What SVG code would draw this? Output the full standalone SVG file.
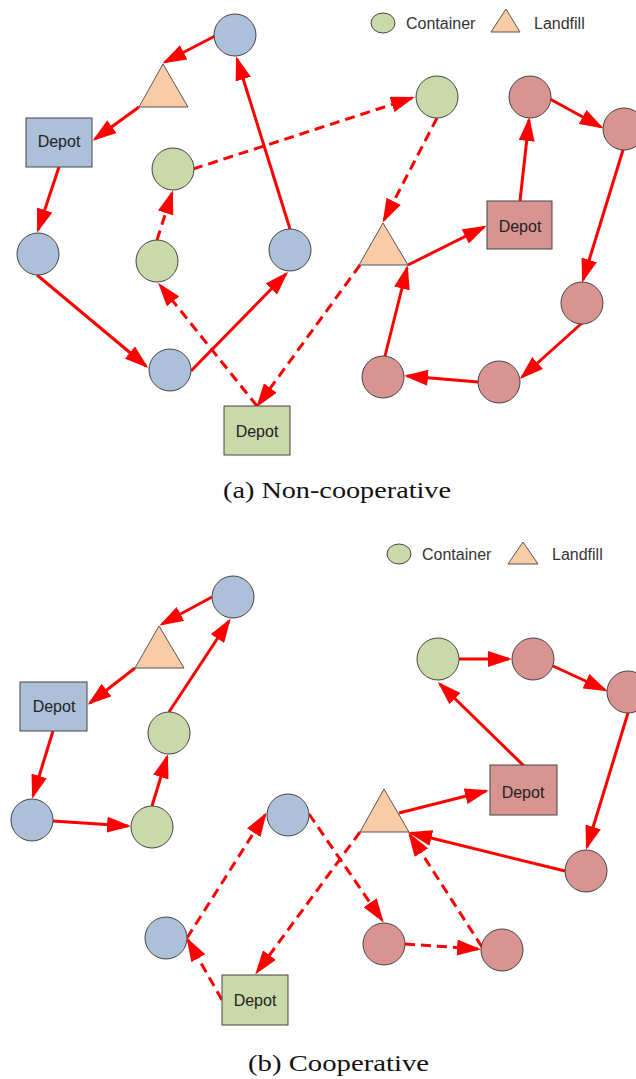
<svg xmlns="http://www.w3.org/2000/svg" width="636" height="1079" viewBox="0 0 636 1079">
<style>
.b{fill:#adc0d9;stroke:#444;stroke-width:1}
.g{fill:#cad9a9;stroke:#444;stroke-width:1}
.r{fill:#d89491;stroke:#444;stroke-width:1}
.o{fill:#f9cca6;stroke:#555;stroke-width:1}
.lbl{font-family:"Liberation Sans",Arial,sans-serif;font-size:16px;fill:#222;text-anchor:middle}
.leg{font-family:"Liberation Sans",Arial,sans-serif;font-size:16px;fill:#333}
.cap{font-family:"Liberation Serif","Times New Roman",serif;font-size:24px;fill:#111}
.e{stroke:#ff0000;stroke-width:3;fill:none;marker-end:url(#ah)}
.d{stroke-dasharray:10 6}
</style>
<defs>
<marker id="ah" markerUnits="userSpaceOnUse" markerWidth="24" markerHeight="16" refX="21" refY="8" orient="auto">
<path d="M0,0 L24,8 L0,16 z" fill="#ff0000"/>
</marker>
</defs>

<g id="legend-a">
<ellipse cx="383" cy="23" rx="12" ry="10" class="g"/>
<text x="406" y="29" class="leg">Container</text>
<polygon points="506,9 491,32 520,32" class="o"/>
<text x="534" y="29" class="leg">Landfill</text>
</g>

<g id="edges-a">
<line x1="215" y1="36" x2="165" y2="62" class="e"/>
<line x1="139" y1="107" x2="95" y2="139" class="e"/>
<line x1="59" y1="167" x2="38" y2="230" class="e"/>
<line x1="37" y1="275" x2="146" y2="366" class="e"/>
<line x1="191" y1="371" x2="286" y2="274" class="e"/>
<line x1="290" y1="229" x2="237" y2="59" class="e"/>
<line x1="257" y1="406" x2="160" y2="285" class="e d"/>
<line x1="157" y1="240" x2="172" y2="193" class="e d"/>
<line x1="193" y1="169" x2="412" y2="98" class="e d"/>
<line x1="437" y1="118" x2="384" y2="220" class="e d"/>
<line x1="360" y1="265" x2="258" y2="405" class="e d"/>
<line x1="408" y1="265" x2="484" y2="227" class="e"/>
<line x1="520" y1="201" x2="529" y2="120" class="e"/>
<line x1="550" y1="99" x2="601" y2="127" class="e"/>
<line x1="623" y1="150" x2="583" y2="280" class="e"/>
<line x1="582" y1="323" x2="522" y2="377" class="e"/>
<line x1="478" y1="382" x2="407" y2="376" class="e"/>
<line x1="385" y1="356" x2="407" y2="268" class="e"/>
</g>

<g id="a-blue-top"><circle cx="235" cy="35" r="21" class="b"/></g>
<g id="a-landfill-left"><polygon points="163,64 139,107 188,107" class="o"/></g>
<g id="a-depot-blue"><rect x="26" y="118" width="66" height="49" class="b"/><text x="59" y="147" class="lbl">Depot</text></g>
<g id="a-green-mid"><circle cx="173" cy="169" r="21" class="g"/></g>
<g id="a-blue-left"><circle cx="38" cy="254" r="21" class="b"/></g>
<g id="a-green-left"><circle cx="157" cy="261" r="21" class="g"/></g>
<g id="a-blue-right"><circle cx="290" cy="250" r="21" class="b"/></g>
<g id="a-blue-bottom"><circle cx="170" cy="370" r="21" class="b"/></g>
<g id="a-depot-green"><rect x="224" y="406" width="66" height="49" class="g"/><text x="257" y="437" class="lbl">Depot</text></g>
<g id="a-green-topright"><circle cx="437" cy="97" r="21" class="g"/></g>
<g id="a-landfill-right"><polygon points="383,223 359,265 408,265" class="o"/></g>
<g id="a-red-1"><circle cx="530" cy="97" r="21" class="r"/></g>
<g id="a-red-2"><circle cx="624" cy="129" r="21" class="r"/></g>
<g id="a-depot-red"><rect x="487" y="201" width="65" height="48" class="r"/><text x="520" y="232" class="lbl">Depot</text></g>
<g id="a-red-3"><circle cx="582" cy="303" r="21" class="r"/></g>
<g id="a-red-4"><circle cx="499" cy="382" r="21" class="r"/></g>
<g id="a-red-5"><circle cx="383" cy="377" r="21" class="r"/></g>

<text x="223" y="498" class="cap" textLength="228" lengthAdjust="spacingAndGlyphs">(a) Non-cooperative</text>

<g id="legend-b">
<ellipse cx="399" cy="554" rx="12" ry="10" class="g"/>
<text x="422" y="560" class="leg">Container</text>
<polygon points="523,542 508,564 538,564" class="o"/>
<text x="552" y="560" class="leg">Landfill</text>
</g>

<g id="edges-b">
<line x1="212" y1="597" x2="162" y2="624" class="e"/>
<line x1="135" y1="668" x2="90" y2="703" class="e"/>
<line x1="53" y1="731" x2="33" y2="796" class="e"/>
<line x1="53" y1="821" x2="128" y2="826" class="e"/>
<line x1="152" y1="806" x2="167" y2="757" class="e"/>
<line x1="169" y1="712" x2="229" y2="621" class="e"/>
<line x1="222" y1="1000" x2="188" y2="940" class="e d"/>
<line x1="187" y1="938" x2="265" y2="815" class="e d"/>
<line x1="309" y1="814" x2="382" y2="920" class="e d"/>
<line x1="360" y1="832" x2="257" y2="972" class="e d"/>
<line x1="405" y1="944" x2="478" y2="949" class="e d"/>
<line x1="482" y1="947" x2="410" y2="835" class="e d"/>
<line x1="399" y1="813" x2="486" y2="791" class="e"/>
<line x1="524" y1="766" x2="440" y2="684" class="e"/>
<line x1="459" y1="659" x2="509" y2="659" class="e"/>
<line x1="553" y1="666" x2="605" y2="690" class="e"/>
<line x1="628" y1="713" x2="587" y2="847" class="e"/>
<line x1="565" y1="871" x2="411" y2="833" class="e"/>
</g>

<g id="b-blue-top"><circle cx="233" cy="597" r="21" class="b"/></g>
<g id="b-landfill-left"><polygon points="159,626 135,668 184,668" class="o"/></g>
<g id="b-depot-blue"><rect x="20" y="682" width="67" height="49" class="b"/><text x="54" y="712" class="lbl">Depot</text></g>
<g id="b-green-mid"><circle cx="169" cy="733" r="21" class="g"/></g>
<g id="b-blue-left"><circle cx="32" cy="820" r="21" class="b"/></g>
<g id="b-green-left"><circle cx="152" cy="827" r="21" class="g"/></g>
<g id="b-blue-mid"><circle cx="288" cy="815" r="21" class="b"/></g>
<g id="b-blue-low"><circle cx="166" cy="938" r="21" class="b"/></g>
<g id="b-depot-green"><rect x="222" y="975" width="66" height="50" class="g"/><text x="255" y="1006" class="lbl">Depot</text></g>
<g id="b-green-topright"><circle cx="438" cy="659" r="21" class="g"/></g>
<g id="b-red-1"><circle cx="533" cy="659" r="21" class="r"/></g>
<g id="b-red-2"><circle cx="628" cy="692" r="21" class="r"/></g>
<g id="b-depot-red"><rect x="490" y="765" width="67" height="50" class="r"/><text x="523" y="798" class="lbl">Depot</text></g>
<g id="b-landfill-right"><polygon points="384,789 360,832 409,832" class="o"/></g>
<g id="b-red-3"><circle cx="586" cy="871" r="21" class="r"/></g>
<g id="b-red-4"><circle cx="384" cy="944" r="21" class="r"/></g>
<g id="b-red-5"><circle cx="502" cy="950" r="21" class="r"/></g>

<text x="248" y="1071" class="cap" textLength="181" lengthAdjust="spacingAndGlyphs">(b) Cooperative</text>
</svg>
